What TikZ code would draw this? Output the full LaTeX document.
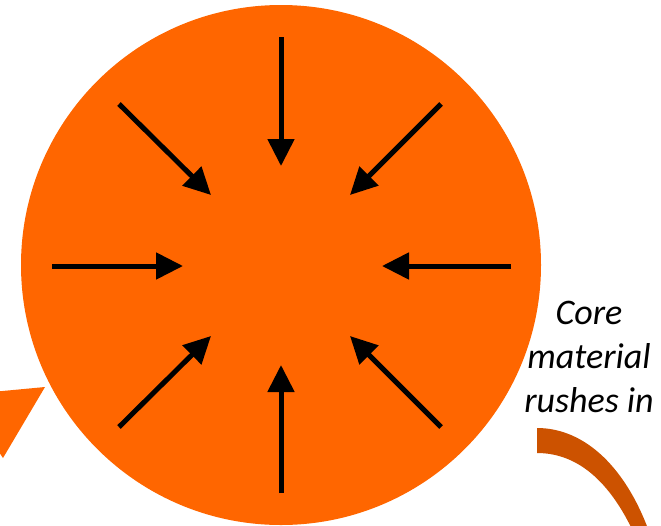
\documentclass[tikz,border=0pt]{standalone}
\usepackage{fontspec}
\setmainfont{Carlito}
\usetikzlibrary{arrows.meta}
\definecolor{ballorange}{HTML}{FF6600}
\definecolor{bandorange}{HTML}{CC5200}
\tikzset{
  inarrow/.style={line width=5pt, -{Triangle[length=27pt,width=26pt]}},
  lbl/.style={font=\fontsize{36pt}{44pt}\selectfont\itshape, align=center, inner sep=0pt}
}
\begin{document}
\begin{tikzpicture}[x=1pt,y=-1pt]
\useasboundingbox (0,0) rectangle (661,525);
\clip (0,0) rectangle (661,525);
% left triangle
\fill[ballorange] (45,387) -- (3,458) -- (-40,395) -- cycle;
% ball
\fill[ballorange] (281,265) circle[radius=260];
\node[circle, minimum size=2pt, inner sep=0pt] (c) at (281,265) {};
% arrows
\coordinate (nS) at (281,37);   \coordinate (nT) at (281,166);
\coordinate (sS) at (281,493);  \coordinate (sT) at (281,365);
\coordinate (wS) at (52,266);   \coordinate (wT) at (183,266);
\coordinate (eS) at (511,266);  \coordinate (eT) at (382,266);
\coordinate (nwS) at (119,104); \coordinate (nwT) at (211,195);
\coordinate (neS) at (441,104); \coordinate (neT) at (350,195);
\coordinate (swS) at (119,427); \coordinate (swT) at (211,336);
\coordinate (seS) at (441,427); \coordinate (seT) at (350,336);
\foreach \d in {n,s,w,e,nw,ne,sw,se}{
  \draw[inarrow] (\d S) -- (\d T);
}
% label
\node[lbl] (txt) at (589,357) {Core\\material\\rushes in};
% curved band
\fill[bandorange] (537,428) .. controls (585,428) and (628,468) .. (652,540)
  -- (637,540) .. controls (613,485) and (580,453) .. (537,453) -- cycle;
\end{tikzpicture}
\end{document}
